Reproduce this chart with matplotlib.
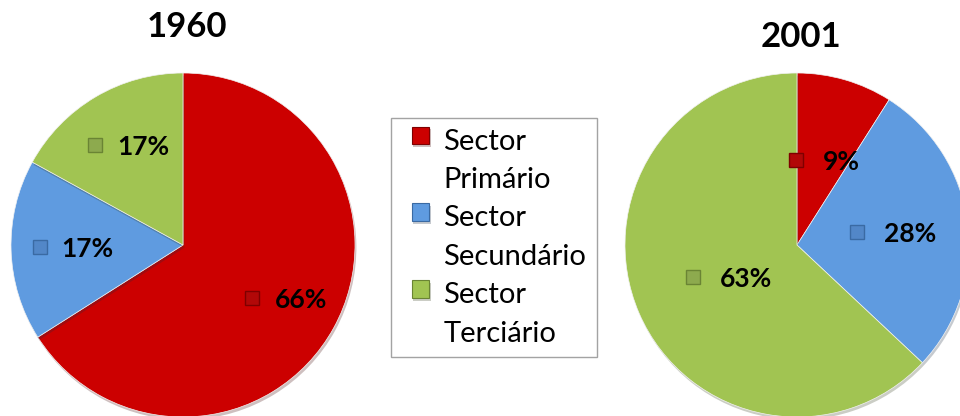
import numpy as np
import matplotlib
matplotlib.use("Agg")
import matplotlib.pyplot as plt
from matplotlib import transforms
from matplotlib.patches import Rectangle
from matplotlib.legend_handler import HandlerPatch
import matplotlib.patheffects as pe

plt.rcParams['font.family'] = ['Lato', 'DejaVu Sans']

sectors = ['Sector\nPrimário', 'Sector\nSecundário', 'Sector\nTerciário']
years = ['1960', '2001']
share_1960 = [66, 17, 17]
share_2001 = [9, 28, 63]
colors = ['#CC0000', '#5F9BE0', '#A1C452']
marker_colors = ['#B20808', '#5287C8', '#8DAA4E']
marker_edges = ['#7E0000', '#3A6AA3', '#6A8434']

W, H = 960, 416
fig = plt.figure(figsize=(9.6, 4.16), dpi=100)


def pie_panel(left_px, values, title, title_y, label_r, dx=0):
    # axes sized in pixels, pie radius 1 fills the axes
    size = 344
    ax = fig.add_axes([left_px / W, (H - 417) / H, size / W, size / H])
    wedges, _ = ax.pie(values, colors=colors, startangle=90, counterclock=False,
                       wedgeprops=dict(edgecolor='#F2F2F2', linewidth=0.5))
    for w in wedges:
        w.set_path_effects([pe.SimplePatchShadow(offset=(1, -2), alpha=0.25),
                            pe.Normal()])
    ax.set_xlim(-1, 1)
    ax.set_ylim(-1, 1)
    ax.set_aspect('equal')
    for i, w in enumerate(wedges):
        ang = np.deg2rad((w.theta1 + w.theta2) / 2)
        x, y = label_r * np.cos(ang), label_r * np.sin(ang)
        mk = transforms.offset_copy(ax.transData, fig=fig, x=-30 + dx, y=2, units='dots')
        ax.plot([x], [y], marker='s', ms=10, color=marker_colors[i],
                mec=marker_edges[i], mew=1.0, transform=mk, clip_on=False)
        tx = transforms.offset_copy(ax.transData, fig=fig, x=-8 + 2 * dx, y=0, units='dots')
        ax.text(x, y, f'{values[i]}%', transform=tx, ha='left', va='center',
                fontsize=19, fontweight='bold', color='black')
    cx = (left_px + size / 2) / W
    fig.text(cx + 4 / W, 1 - title_y / H, title, ha='center', va='center',
             fontsize=25, fontweight='bold')
    return wedges


LEG_FS = 21
LINE_SP = 1.6


def top_square(legend, orig_handle, xdescent, ydescent, width, height, fontsize):
    # square at the right end of the handle box, beside the first text line
    side = fontsize * 0.6
    shift = fontsize * 0.9
    return Rectangle((-xdescent + width - side, -ydescent + shift), side, side)


wedges = pie_panel(11, share_1960, years[0], 27, 0.66)
pie_panel(625, share_2001, years[1], 37, 0.50, dx=5)

leg = fig.legend(wedges, sectors, loc='upper left',
                 bbox_to_anchor=(391 / W, 1 - 118 / H), bbox_transform=fig.transFigure,
                 borderaxespad=0, frameon=True, fancybox=False, fontsize=LEG_FS,
                 handlelength=0.95, handleheight=0.6, handletextpad=0.48,
                 labelspacing=0.42, borderpad=0.36,
                 handler_map={w: HandlerPatch(patch_func=top_square) for w in wedges})
for t in leg.get_texts():
    t.set_linespacing(LINE_SP)
for h, c, e in zip(leg.legend_handles, colors, marker_edges):
    h.set_facecolor(c)
    h.set_edgecolor(e)
    h.set_linewidth(0.8)
leg.get_frame().set_edgecolor('#8C8C8C')
leg.get_frame().set_linewidth(1.0)

fig.savefig('out.png', dpi=100)
